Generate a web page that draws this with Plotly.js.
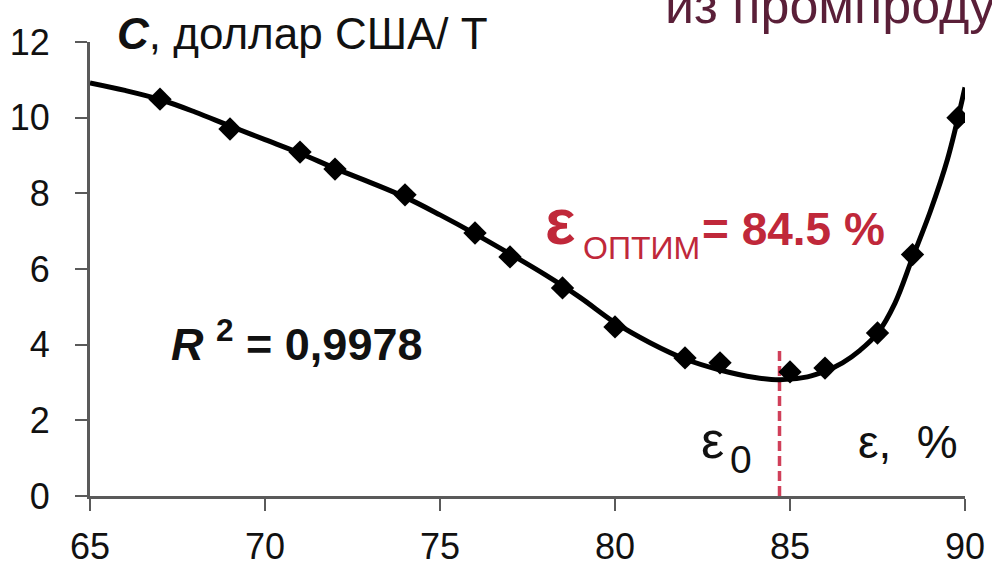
<!DOCTYPE html>
<html>
<head>
<meta charset="utf-8">
<script src="https://cdn.plot.ly/plotly-3.0.1.min.js"></script>
<style>
  html, body { margin: 0; padding: 0; background: #ffffff; }
  #chart { width: 992px; height: 566px; }
</style>
</head>
<body>
<div id="chart"></div>
<script>
// Measured data points (epsilon, %  ->  C, USD/t)
const pointsX = [67, 69, 71, 72, 74, 76, 77, 78.5, 80, 82, 83, 85, 86, 87.5, 88.5, 89.8];
const pointsY = [10.49, 9.70, 9.09, 8.64, 7.96, 6.95, 6.32, 5.50, 4.47, 3.65, 3.52, 3.28, 3.38, 4.31, 6.38, 10.0];

// Trend curve
const curveX = [65, 66, 67, 68, 69, 70, 71, 72, 73, 74, 75, 76, 77, 78, 79, 80, 81, 82, 83, 84, 84.7, 85.5, 86, 86.5, 87, 87.5, 88, 88.5, 89, 89.5, 90];
const curveY = [10.92, 10.72, 10.48, 10.15, 9.78, 9.42, 9.06, 8.66, 8.29, 7.9, 7.43, 6.93, 6.40, 5.85, 5.25, 4.58, 4.05, 3.62, 3.33, 3.13, 3.07, 3.15, 3.3, 3.52, 3.85, 4.3, 5.1, 6.3, 7.5, 8.9, 10.8];

// Optimum marker line
const optX = [84.7, 84.7];
const optY = [0, 3.9];

// Axis ticks
const xTicks = [65, 70, 75, 80, 85, 90];
const yTicks = [0, 2, 4, 6, 8, 10, 12];

// Pixel helpers for annotation placement in paper coordinates
const L = 90, R = 965, T = 42, B = 496;
function px2x(px) { return (px - L) / (R - L); }
function py2y(py) { return (B - py) / (B - T); }
function mid(baseline, fs) { return py2y(baseline - 0.35 * fs); }

const FONT = 'Liberation Sans, Arial, sans-serif';
const RED = '#c0283a';
const AXIS = '#5a5a5a';

const traces = [
  {
    x: optX, y: optY, mode: 'lines', hoverinfo: 'skip',
    line: { color: '#d0405a', width: 3.5, dash: '10px,5px' }
  },
  {
    x: curveX, y: curveY, mode: 'lines', hoverinfo: 'skip',
    line: { color: '#000000', width: 5, shape: 'spline', smoothing: 1 }
  },
  {
    x: pointsX, y: pointsY, mode: 'markers',
    marker: { symbol: 'diamond', size: 18, color: '#000000' }
  }
];

const annotations = [
  { text: '<b><i>C</i></b>, доллар США/ Т', x: px2x(116), y: mid(49, 44), xanchor: 'left', yanchor: 'middle',
    font: { family: FONT, size: 44, color: '#111111' } },
  { text: 'из промпроду', x: px2x(664), y: mid(23, 52), xanchor: 'left', yanchor: 'middle',
    font: { family: FONT, size: 52, color: '#5a1f38' } },
  { text: '<b>ε</b>', x: px2x(544), y: mid(244, 64), xanchor: 'left', yanchor: 'middle',
    font: { family: FONT, size: 64, color: RED } },
  { text: 'ОПТИМ', x: px2x(582), y: mid(259, 32), xanchor: 'left', yanchor: 'middle',
    font: { family: FONT, size: 32, color: RED } },
  { text: '<b>= 84.5 %</b>', x: px2x(701), y: mid(245, 46), xanchor: 'left', yanchor: 'middle',
    font: { family: FONT, size: 46, color: RED } },
  { text: '<b><i>R</i> <sup>2</sup> = 0,9978</b>', x: px2x(170), y: mid(357, 45), xanchor: 'left', yanchor: 'middle',
    font: { family: FONT, size: 45, color: '#111111' } },
  { text: 'ε', x: px2x(700), y: mid(458, 52), xanchor: 'left', yanchor: 'middle',
    font: { family: FONT, size: 52, color: '#111111' } },
  { text: '0', x: px2x(729), y: mid(473, 39), xanchor: 'left', yanchor: 'middle',
    font: { family: FONT, size: 39, color: '#111111' } },
  { text: 'ε,\u00a0\u00a0%', x: px2x(857), y: mid(458, 46), xanchor: 'left', yanchor: 'middle',
    font: { family: FONT, size: 46, color: '#111111' } }
].map(a => Object.assign({ xref: 'paper', yref: 'paper', showarrow: false, borderpad: 0 }, a));

const layout = {
  width: 992, height: 566,
  margin: { l: L, r: 992 - R, t: T, b: 566 - B, pad: 0 },
  paper_bgcolor: '#ffffff', plot_bgcolor: '#ffffff',
  showlegend: false,
  font: { family: FONT, size: 36, color: '#111111' },
  xaxis: {
    range: [65, 90], tickvals: xTicks, ticktext: xTicks.map(String),
    showgrid: false, zeroline: false,
    showline: true, linecolor: AXIS, linewidth: 3,
    ticks: 'outside', ticklen: 12, tickwidth: 2, tickcolor: AXIS,
    ticklabelstandoff: 5,
    tickfont: { family: FONT, size: 36, color: '#111111' }
  },
  yaxis: {
    range: [0, 12], tickvals: yTicks, ticktext: yTicks.map(String),
    showgrid: false, zeroline: false,
    showline: true, linecolor: AXIS, linewidth: 3,
    ticks: 'outside', ticklen: 12, tickwidth: 2, tickcolor: AXIS,
    ticklabelstandoff: 18,
    tickfont: { family: FONT, size: 36, color: '#111111' }
  },
  annotations: annotations
};

Plotly.newPlot('chart', traces, layout, { displayModeBar: false, staticPlot: true });
</script>
</body>
</html>
